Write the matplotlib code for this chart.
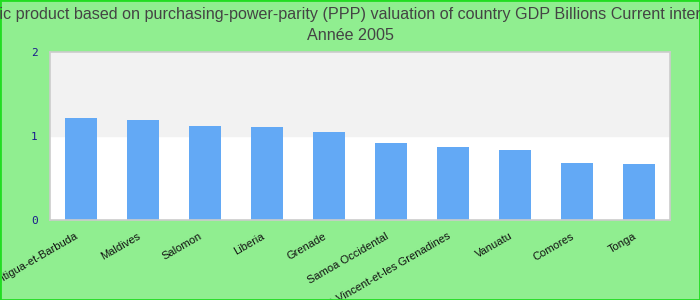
import matplotlib.pyplot as plt
import matplotlib.patches as patches
from matplotlib.transforms import ScaledTranslation

plot_fname = "out.png"

# data
countries = ["Antigua-et-Barbuda", "Maldives", "Salomon", "Liberia", "Grenade",
             "Samoa Occidental", "Saint-Vincent-et-les Grenadines", "Vanuatu",
             "Comores", "Tonga"]
gdp_ppp = [1.21, 1.19, 1.12, 1.11, 1.05, 0.92, 0.87, 0.83, 0.68, 0.67]
yticks = [0, 1, 2]

title = ("Gross domestic product based on purchasing-power-parity (PPP) valuation "
         "of country GDP Billions Current international dollar")
subtitle = "Année 2005"

plt.rcParams['font.family'] = ['Liberation Sans', 'DejaVu Sans']

fig = plt.figure(figsize=(7, 3), dpi=100, facecolor="#90ee90")
ax = fig.add_axes([50 / 700, 1 - 220 / 300, 620 / 700, 168 / 300])
ax.set_facecolor("white")

# alternating background bands
ax.axhspan(1, 2, color="#f2f2f2", zorder=0)

xlocs = list(range(len(countries)))
ax.bar(xlocs, gdp_ppp, width=0.52, color="#63a9f5", zorder=2)

ax.set_xlim(-0.5, len(countries) - 0.5)
ax.set_ylim(0, 2)
ax.set_yticks(yticks)
ax.set_yticklabels([str(t) for t in yticks], family="DejaVu Sans Mono",
                   fontsize=8, color="#1a1a8c")
ax.set_xticks(xlocs)
ax.set_xticklabels(countries, rotation=30, ha="right", va="top",
                   rotation_mode="anchor", fontsize=8, color="#111111")
ax.tick_params(axis="y", length=0, pad=9)
ax.tick_params(axis="x", length=0, pad=8)
shift = ScaledTranslation(-6 / 100, 0, fig.dpi_scale_trans)
for lbl in ax.get_xticklabels():
    lbl.set_transform(lbl.get_transform() + shift)

for s in ax.spines.values():
    s.set_color("#cccccc")
    s.set_linewidth(1.2)

fig.text(0.5, 1 - 14 / 300, title, ha="center", va="center",
         fontsize=11.6, color="#444444")
fig.text(0.5, 1 - 36 / 300, subtitle, ha="center", va="center",
         fontsize=11.6, color="#444444")

# green frame around the whole image
fig.patches.append(patches.Rectangle((0, 0), 1, 1, transform=fig.transFigure,
                                     fill=False, edgecolor="#22dd22", linewidth=2))

fig.savefig(plot_fname, dpi=100, facecolor=fig.get_facecolor())
